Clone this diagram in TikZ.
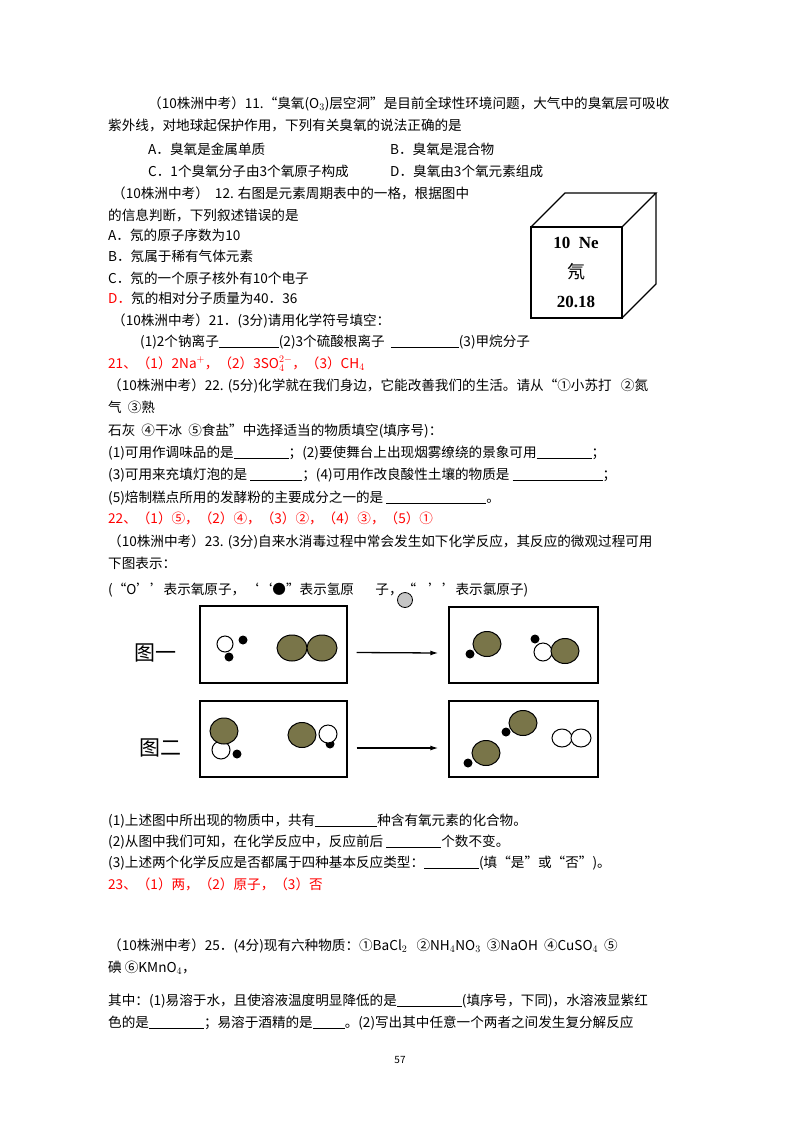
\documentclass[tikz,border=0pt]{standalone}
\usepackage{fontspec}
\setmainfont{Noto Sans CJK SC}
\newfontfamily\serifnum{Liberation Serif}
\usetikzlibrary{arrows.meta}
\newcommand{\blk}[1]{\rule[-2pt]{#1pt}{0.6pt}}
\begin{document}
\begin{tikzpicture}[x=1pt,y=-1pt,
  tx/.style={anchor=base west,inner sep=0pt,font=\fontsize{13.6}{15}\selectfont},
  red/.style={text=red},
  box/.style={draw,line width=1.4pt},
  cl/.style={draw,line width=1pt,fill=olive!50!gray!80!black},
  ox/.style={draw,line width=1pt,fill=white},
  hy/.style={fill=black}]
\useasboundingbox (0,0) rectangle (800,1132);
\node[tx] (a1) at (148,108) {（10株洲中考）11.“臭氧(O$_3$)层空洞”是目前全球性环境问题，大气中的臭氧层可吸收};
\node[tx] (a2) at (108,130) {紫外线，对地球起保护作用，下列有关臭氧的说法正确的是};
\node[tx] (a3) at (148,154) {A．臭氧是金属单质};
\node[tx] (a4) at (390,154) {B．臭氧是混合物};
\node[tx] (a5) at (148,176) {C．1个臭氧分子由3个氧原子构成};
\node[tx] (a6) at (390,176) {D．臭氧由3个氧元素组成};
\node[tx] (b1) at (112,198) {（10株洲中考）\ \ 12. 右图是元素周期表中的一格，根据图中};
\node[tx] (b2) at (108,220) {的信息判断，下列叙述错误的是};
\node[tx] (b3) at (108,240) {A．氖的原子序数为10};
\node[tx] (b4) at (108,261) {B．氖属于稀有气体元素};
\node[tx] (b5) at (108,283) {C．氖的一个原子核外有10个电子};
\node[tx] (b6) at (108,303) {\textcolor{red}{D．}氖的相对分子质量为40．36};
% cube
\draw[line width=1.3pt] (531,227) rectangle (622,318);
\draw[line width=1.3pt] (531,227) -- (565,193) -- (656,193) -- (622,227);
\draw[line width=1.3pt] (656,193) -- (656,284) -- (622,318);
\node[anchor=center,font=\fontsize{17}{18}\selectfont\serifnum\bfseries] (c1) at (576,243) {10\ \ Ne};
\node[anchor=center,font=\fontsize{18}{18}\selectfont] (c2) at (576,272) {氖};
\node[anchor=center,font=\fontsize{17}{18}\selectfont\serifnum\bfseries] (c3) at (576,302) {20.18};
\node[tx] (d1) at (112,325) {（10株洲中考）21．(3分)请用化学符号填空：};
\node[tx] (d2) at (140,346) {(1)2个钠离子\blk{60}(2)3个硫酸根离子\ \ \blk{68}(3)甲烷分子};
\node[tx,red] (d3) at (108,368) {21、（1）2Na$^{+}$，（2）3SO$_4^{2-}$，（3）CH$_4$};
\node[tx] (e1) at (108,390) {（10株洲中考）22. (5分)化学就在我们身边，它能改善我们的生活。请从“①小苏打\ \ \ ②氮};
\node[tx] (e2) at (108,412) {气\ \ ③熟};
\node[tx] (e3) at (108,435) {石灰\ \ ④干冰\ \ ⑤食盐”中选择适当的物质填空(填序号)：};
\node[tx] (e4) at (108,457) {(1)可用作调味品的是\blk{55}；(2)要使舞台上出现烟雾缭绕的景象可用\blk{55}；};
\node[tx] (e5) at (108,479) {(3)可用来充填灯泡的是\ \blk{52}；(4)可用作改良酸性土壤的物质是\ \blk{90}；};
\node[tx] (e6) at (108,502) {(5)焙制糕点所用的发酵粉的主要成分之一的是\ \blk{100}。};
\node[tx,red] (e7) at (108,523) {22、（1）⑤，（2）④，（3）②，（4）③，（5）①};
\node[tx] (f1) at (108,546) {（10株洲中考）23. (3分)自来水消毒过程中常会发生如下化学反应，其反应的微观过程可用};
\node[tx] (f2) at (108,568) {下图表示：};
\node[tx] (f3) at (108,594) {(“O’’表示氧原子，‘‘●”表示氢原\ \ \ \ \ \ \ 子，“\ \ \ \ ’’表示氯原子)};
\draw[fill=gray!45,line width=0.8pt] (405,600) circle (7.5);
% figures
\node[anchor=center,font=\fontsize{21}{21}\selectfont] (g1) at (155,653) {图一};
\node[anchor=center,font=\fontsize{21}{21}\selectfont] (g2) at (160,748) {图二};
\node[box,minimum width=147pt,minimum height=77pt,inner sep=0pt] (L1) at (273.5,644.5) {};
\node[box,minimum width=149pt,minimum height=76pt,inner sep=0pt] (R1) at (523.5,645) {};
\node[box,minimum width=147pt,minimum height=76pt,inner sep=0pt] (L2) at (273.5,739) {};
\node[box,minimum width=149pt,minimum height=76pt,inner sep=0pt] (R2) at (523.5,739) {};
\draw[-{Latex[length=8pt,width=5pt]},line width=1.3pt] ([xshift=9pt,yshift=-8pt]L1.east) -- ([xshift=-10pt,yshift=-8pt]R1.west);
\draw[-{Latex[length=8pt,width=5pt]},line width=1.3pt] ([xshift=9pt,yshift=-9pt]L2.east) -- ([xshift=-10pt,yshift=-9pt]R2.west);
% fig1 left
\fill[hy] (243,640) circle (4.5); \fill[hy] (229,657) circle (4.5);
\draw[ox] (225,644) circle (8);
\draw[cl] (292,648) ellipse (15 and 13); \draw[cl] (322,648) ellipse (15 and 13);
% fig1 right
\fill[hy] (470,654) circle (4.5);
\draw[cl] (487,644) ellipse (14 and 12.5);
\fill[hy] (535,639) circle (4.5);
\draw[ox] (543,652) circle (9);
\draw[cl] (565,651) ellipse (14 and 12.5);
% fig2 left
\fill[hy] (237,754) circle (4.5);
\draw[ox] (221,750) circle (9);
\draw[cl] (224,731) ellipse (14 and 13);
\fill[hy] (330,744) circle (4.5);
\draw[ox] (328,734) circle (9);
\draw[cl] (302,735) ellipse (14 and 12.5);
% fig2 right
\fill[hy] (506,732) circle (4.5);
\draw[cl] (523,723) ellipse (14 and 12.5);
\fill[hy] (468,763) circle (4.5);
\draw[cl] (486,753) ellipse (14 and 12.5);
\draw[ox] (562,738) ellipse (10 and 9); \draw[ox] (581,738) ellipse (10 and 9);
% questions
\node[tx] (h1) at (108,825) {(1)上述图中所出现的物质中，共有\blk{62}种含有氧元素的化合物。};
\node[tx] (h2) at (108,846) {(2)从图中我们可知，在化学反应中，反应前后\ \blk{55}个数不变。};
\node[tx] (h3) at (108,867) {(3)上述两个化学反应是否都属于四种基本反应类型：\blk{55}(填“是”或“否”)。};
\node[tx,red] (h4) at (108,889) {23、（1）两，（2）原子，（3）否};
\node[tx] (k1) at (108,950) {（10株洲中考）25．(4分)现有六种物质：①BaCl$_2$\ \ \ ②NH$_4$NO$_3$\ \ ③NaOH\ \ ④CuSO$_4$\ \ ⑤};
\node[tx] (k2) at (108,972) {碘\ ⑥KMnO$_4$，};
\node[tx] (k3) at (108,1005) {其中：(1)易溶于水，且使溶液温度明显降低的是\blk{65}(填序号，下同)，水溶液显紫红};
\node[tx] (k4) at (108,1027) {色的是\blk{55}；易溶于酒精的是\blk{32}。(2)写出其中任意一个两者之间发生复分解反应};
\node[anchor=center,font=\fontsize{10}{12}\selectfont] (pg) at (400,1060) {57};
\end{tikzpicture}
\end{document}
